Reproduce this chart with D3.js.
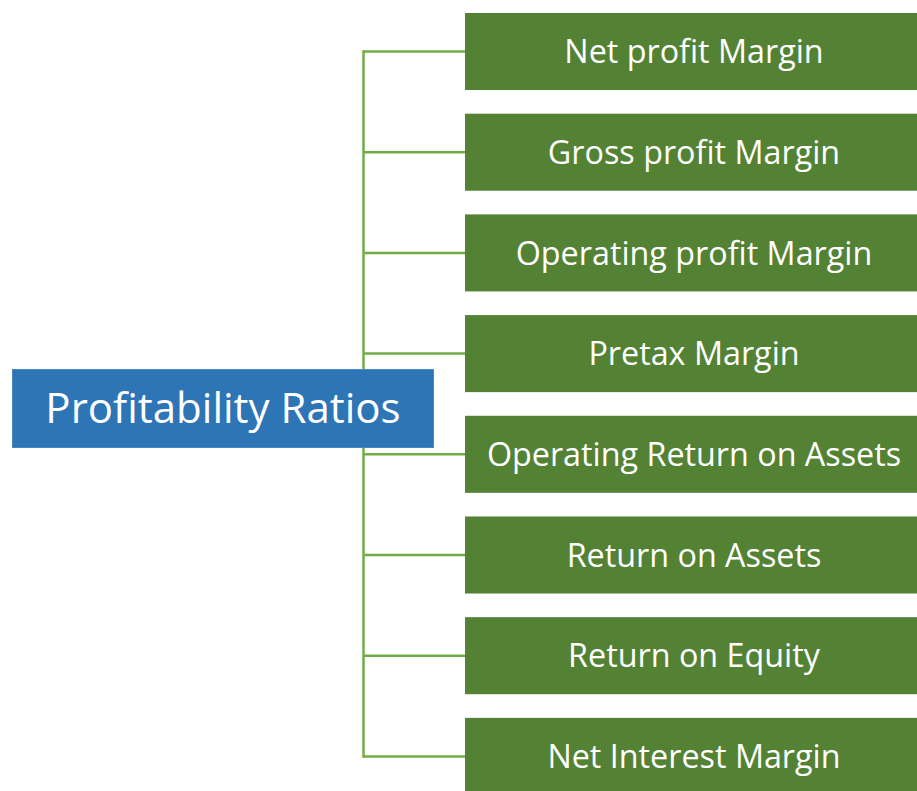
<!DOCTYPE html>
<html><head><meta charset="utf-8">
<script src="https://cdn.jsdelivr.net/npm/d3@7"></script>
<style>html,body{margin:0;padding:0;background:#fff;overflow:hidden} text{font-variant-ligatures:none}</style>
</head><body>
<script>
const rootLabel = "Profitability Ratios";
const categories = ["Net profit Margin","Gross profit Margin","Operating profit Margin","Pretax Margin","Operating Return on Assets","Return on Assets","Return on Equity","Net Interest Margin"];

const W = 917, H = 791;
const svg = d3.select("body").append("svg").attr("width", W).attr("height", H);
const font = "'Open Sans', sans-serif";

const y = d3.scaleBand().domain(categories).range([13, 794.9]).paddingInner(0.235).paddingOuter(0);
const boxX = 465, boxW = 460, lineX = 363.5;
const cy = d => y(d) + y.bandwidth() / 2;

// connectors
const g = svg.append("g");
g.append("line").attr("x1", lineX).attr("x2", lineX)
  .attr("y1", cy(categories[0]) - 1.25).attr("y2", cy(categories[categories.length - 1]) + 1.25)
  .attr("stroke", "#70AD47").attr("stroke-width", 2.5);
g.selectAll("line.h").data(categories).join("line").attr("class", "h")
  .attr("x1", lineX).attr("x2", boxX).attr("y1", cy).attr("y2", cy)
  .attr("stroke", "#70AD47").attr("stroke-width", 2.5);

// child boxes
const nodes = svg.selectAll("g.node").data(categories).join("g").attr("class", "node");
nodes.append("rect").attr("x", boxX).attr("y", d => y(d)).attr("width", boxW).attr("height", y.bandwidth())
  .attr("fill", "#548235");
nodes.append("text").attr("x", 694).attr("y", cy).attr("dy", "0.36em")
  .attr("text-anchor", "middle").attr("fill", "#fff")
  .attr("font-family", font).attr("font-size", 32.3).text(d => d);

// root box
svg.append("rect").attr("x", 12.5).attr("y", 369.5).attr("width", 421).attr("height", 78)
  .attr("fill", "#2E75B6").attr("stroke", "#4A88C2").attr("stroke-width", 1);
svg.append("text").attr("x", 223).attr("y", 407.5).attr("dy", "0.36em")
  .attr("text-anchor", "middle").attr("fill", "#fff")
  .attr("font-family", font).attr("font-size", 42).text(rootLabel);
</script>
</body></html>
